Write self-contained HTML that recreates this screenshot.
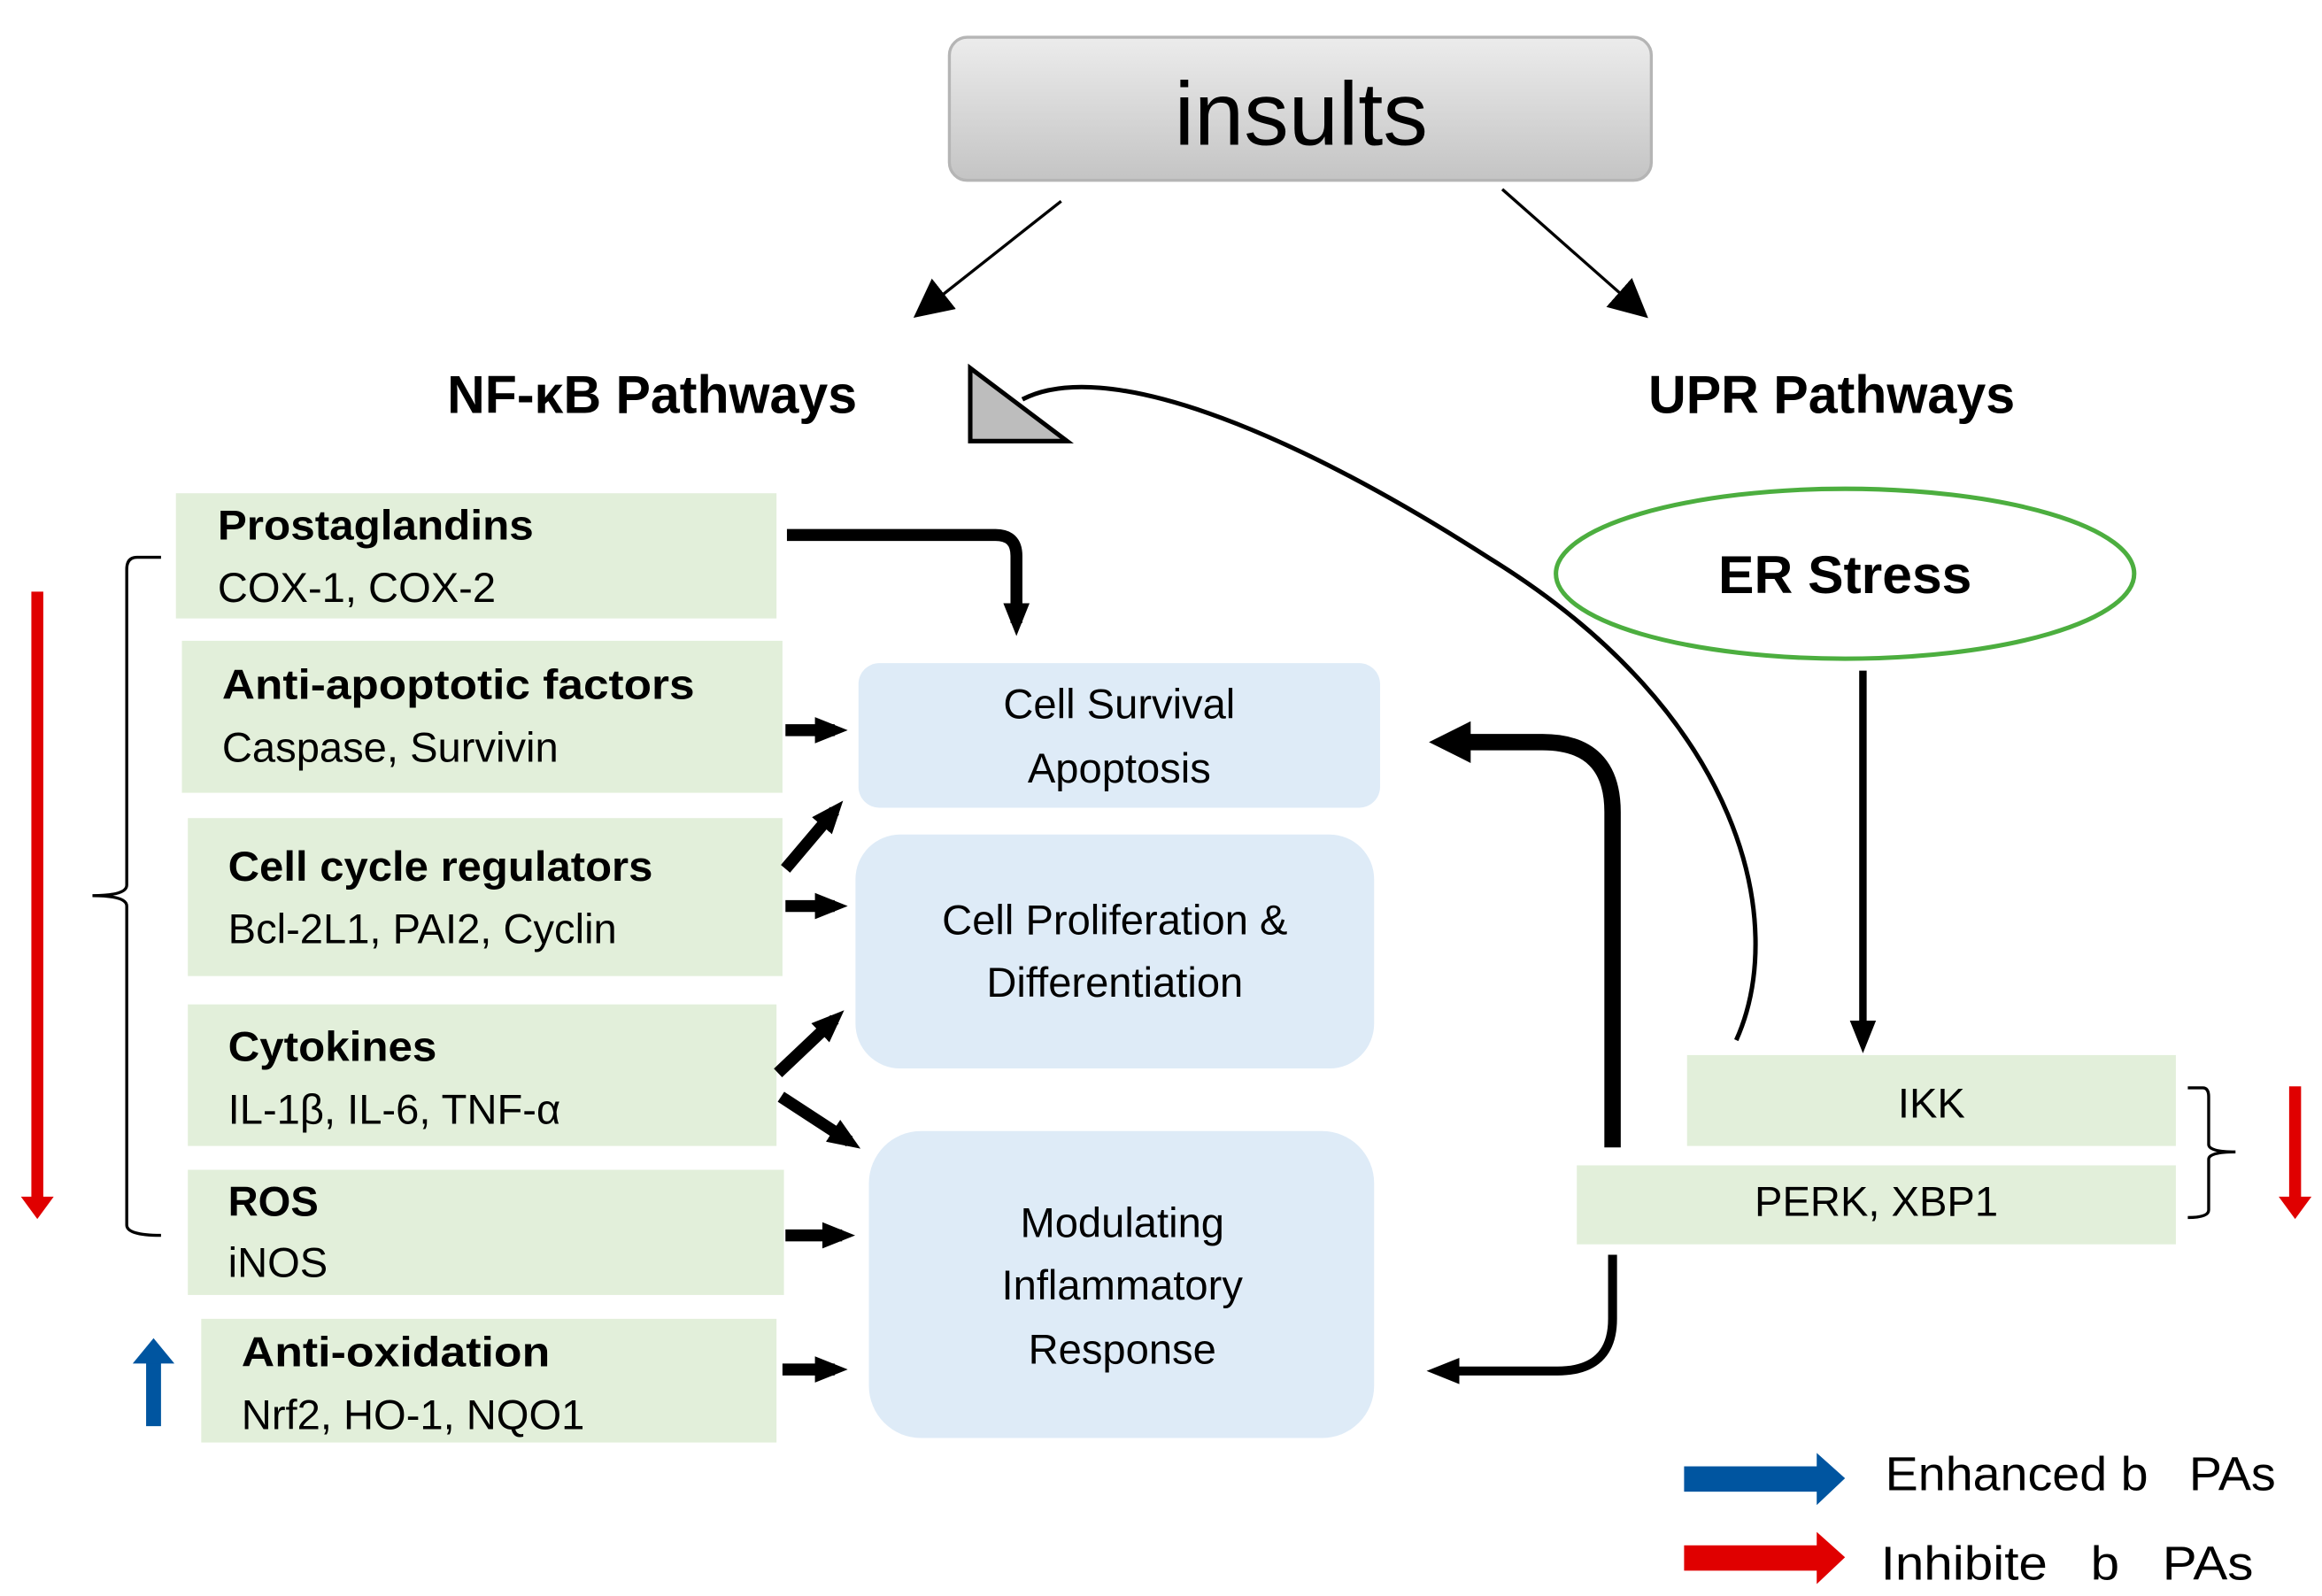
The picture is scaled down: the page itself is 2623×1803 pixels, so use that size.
<!DOCTYPE html>
<html><head><meta charset="utf-8"><style>
html,body{margin:0;padding:0;background:#fff;}
svg{display:block;}
text{font-family:"Liberation Sans",sans-serif;fill:#000;}
</style></head><body>
<svg width="2623" height="1803" viewBox="0 0 1558 1071" xmlns="http://www.w3.org/2000/svg">
<defs>
<linearGradient id="g" x1="0" y1="0" x2="0" y2="1"><stop offset="0" stop-color="#ececec"/><stop offset="1" stop-color="#c4c4c4"/></linearGradient>
<marker id="ahs" viewBox="0 0 10 10" markerWidth="26" markerHeight="26" refX="8" refY="5" orient="auto" markerUnits="userSpaceOnUse"><path d="M0,0 L10,5 L0,10 Z"/></marker>
<marker id="ahb" viewBox="0 0 10 10" markerWidth="22" markerHeight="22" refX="6" refY="5" orient="auto" markerUnits="userSpaceOnUse"><path d="M0,1 L10,5 L0,9 Z"/></marker>
<marker id="ahl" viewBox="0 0 10 10" markerWidth="28" markerHeight="28" refX="6" refY="5" orient="auto" markerUnits="userSpaceOnUse"><path d="M0,0 L10,5 L0,10 Z"/></marker>
</defs>

<rect x="637" y="25" width="471" height="96" rx="12" fill="url(#g)" stroke="#b5b5b5" stroke-width="2"/>
<text x="873" y="97" font-size="60" text-anchor="middle">insults</text>

<line x1="712" y1="135" x2="617" y2="210" stroke="#000" stroke-width="2" marker-end="url(#ahs)"/>
<line x1="1008" y1="127" x2="1102" y2="210" stroke="#000" stroke-width="2" marker-end="url(#ahs)"/>

<text x="300" y="277" font-size="36" font-weight="bold" textLength="275" lengthAdjust="spacingAndGlyphs">NF-κB Pathways</text>
<text x="1106" y="277" font-size="36" font-weight="bold" textLength="246" lengthAdjust="spacingAndGlyphs">UPR Pathways</text>

<path d="M1165,698 C1200,620 1170,480 1000,375 C860,285 740,240 686,268" fill="none" stroke="#000" stroke-width="3"/>
<polygon points="651,247 651,296 716,296" fill="#bdbdbd" stroke="#000" stroke-width="3"/>

<g fill="#e2efda">
<rect x="118" y="331" width="403" height="84"/>
<rect x="122" y="430" width="403" height="102"/>
<rect x="126" y="549" width="399" height="106"/>
<rect x="126" y="674" width="395" height="95"/>
<rect x="126" y="785" width="400" height="84"/>
<rect x="135" y="885" width="386" height="83"/>
<rect x="1132" y="708" width="328" height="61"/>
<rect x="1058" y="782" width="402" height="53"/>
</g>
<g font-size="28">
<text x="146" y="362" font-weight="bold" textLength="212" lengthAdjust="spacingAndGlyphs">Prostaglandins</text>
<text x="146" y="404">COX-1, COX-2</text>
<text x="149" y="469" font-weight="bold" textLength="317" lengthAdjust="spacingAndGlyphs">Anti-apoptotic factors</text>
<text x="149" y="511">Caspase, Survivin</text>
<text x="153" y="591" font-weight="bold" textLength="285" lengthAdjust="spacingAndGlyphs">Cell cycle regulators</text>
<text x="153" y="633">Bcl-2L1, PAI2, Cyclin</text>
<text x="153" y="712" font-weight="bold" textLength="140" lengthAdjust="spacingAndGlyphs">Cytokines</text>
<text x="153" y="754">IL-1β, IL-6, TNF-α</text>
<text x="153" y="816" font-weight="bold">ROS</text>
<text x="153" y="857">iNOS</text>
<text x="162" y="917" font-weight="bold" textLength="207" lengthAdjust="spacingAndGlyphs">Anti-oxidation</text>
<text x="162" y="959">Nrf2, HO-1, NQO1</text>
<text x="1296" y="750" text-anchor="middle">IKK</text>
<text x="1259" y="816" text-anchor="middle">PERK, XBP1</text>
</g>

<g fill="#deebf7">
<rect x="576" y="445" width="350" height="97" rx="14"/>
<rect x="574" y="560" width="348" height="157" rx="30"/>
<rect x="583" y="759" width="339" height="206" rx="35"/>
</g>
<g font-size="28" text-anchor="middle">
<text x="751" y="482">Cell Survival</text>
<text x="751" y="525">Apoptosis</text>
<text x="748" y="627">Cell Proliferation &amp;</text>
<text x="748" y="669">Differentiation</text>
<text x="753" y="830">Modulating</text>
<text x="753" y="872">Inflammatory</text>
<text x="753" y="915">Response</text>
</g>

<ellipse cx="1238" cy="385" rx="194" ry="57" fill="#fff" stroke="#4cae3f" stroke-width="3"/>
<text x="1238" y="398" font-size="36" font-weight="bold" text-anchor="middle">ER Stress</text>

<line x1="1250" y1="450" x2="1250" y2="698" stroke="#000" stroke-width="5" marker-end="url(#ahb)"/>

<g fill="none" stroke="#000" stroke-width="8">
<path d="M528,359 H668 Q682,359 682,373 V418" marker-end="url(#ahb)"/>
<line x1="527" y1="490" x2="560" y2="490" marker-end="url(#ahb)"/>
<line x1="527" y1="583" x2="560" y2="544" marker-end="url(#ahb)"/>
<line x1="527" y1="608" x2="560" y2="608" marker-end="url(#ahb)"/>
<line x1="522" y1="720" x2="560" y2="684" marker-end="url(#ahb)"/>
<line x1="524" y1="736" x2="570" y2="766" marker-end="url(#ahb)"/>
<line x1="527" y1="829" x2="565" y2="829" marker-end="url(#ahb)"/>
<line x1="525" y1="919" x2="560" y2="919" marker-end="url(#ahb)"/>
<path d="M1082,770 V545 Q1082,498 1035,498 H970" stroke-width="11" marker-end="url(#ahl)"/>
<path d="M1082,842 V885 Q1082,920 1045,920 H966" stroke-width="6" marker-end="url(#ahb)"/>
</g>

<path d="M108,374 H92 Q85,374 85,382 V594 Q85,601 62,601 Q85,601 85,608 V822 Q85,829 108,829" fill="none" stroke="#000" stroke-width="2"/>
<path d="M1468,730 H1478 Q1482,730 1482,736 V768 Q1482,773 1500,773 Q1482,773 1482,778 V812 Q1482,817 1468,817" fill="none" stroke="#000" stroke-width="2"/>

<line x1="25" y1="397" x2="25" y2="805" stroke="#e00000" stroke-width="8"/>
<polygon points="14,803 36,803 25,818" fill="#e00000"/>
<line x1="1540" y1="729" x2="1540" y2="805" stroke="#e00000" stroke-width="8"/>
<polygon points="1529,803 1551,803 1540,818" fill="#e00000"/>
<line x1="103" y1="957" x2="103" y2="912" stroke="#0055a0" stroke-width="10"/>
<polygon points="89,915 117,915 103,898" fill="#0055a0"/>

<rect x="1130" y="984" width="97" height="17" fill="#0055a0"/>
<polygon points="1219,975 1219,1010 1238,992" fill="#0055a0"/>
<rect x="1130" y="1037" width="97" height="17" fill="#e00000"/>
<polygon points="1219,1028 1219,1063 1238,1045" fill="#e00000"/>
<text x="1265" y="1000" font-size="32" textLength="262" lengthAdjust="spacingAndGlyphs" xml:space="preserve">Enhanced b   PAs</text>
<text x="1262" y="1060" font-size="32" textLength="250" lengthAdjust="spacingAndGlyphs" xml:space="preserve">Inhibite   b   PAs</text>
</svg>
</body></html>
